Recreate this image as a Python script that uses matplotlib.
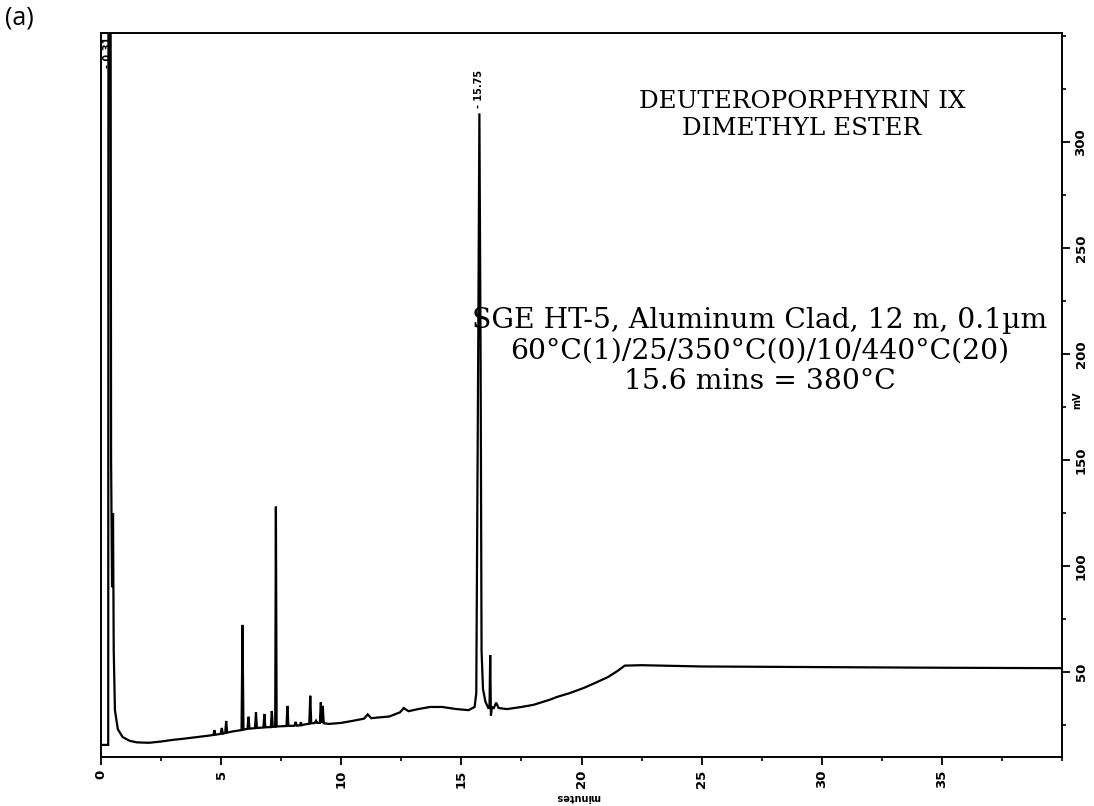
import matplotlib
matplotlib.use("Agg")
import matplotlib.pyplot as plt
from matplotlib.ticker import MultipleLocator
from matplotlib.transforms import blended_transform_factory

# Chromatogram trace: retention time (minutes) and detector signal (mV)
time_min = [
    0.00, 0.28, 0.30, 0.31, 0.40, 0.42, 0.46, 0.50, 0.53, 0.58, 0.70, 0.90,
    1.20, 1.50, 2.00, 2.50, 3.00, 3.50, 4.00, 4.50,
    4.68, 4.72, 4.76, 4.98, 5.03, 5.07, 5.17, 5.21, 5.25,
    5.50, 5.85, 5.89, 5.93, 6.10, 6.14, 6.18, 6.41, 6.45, 6.49,
    6.76, 6.80, 6.84, 7.07, 7.11, 7.15, 7.25, 7.28, 7.31,
    7.50, 7.72, 7.76, 7.80, 8.05, 8.10, 8.15, 8.28, 8.32, 8.36,
    8.50, 8.67, 8.71, 8.75, 8.90, 8.95, 9.00, 9.11, 9.15, 9.19, 9.23, 9.27,
    9.50, 10.00, 10.50, 10.95, 11.10, 11.25, 11.50, 12.00, 12.45, 12.60, 12.80,
    13.20, 13.70, 14.20, 14.80, 15.30, 15.55, 15.62, 15.70, 15.75, 15.80,
    15.84, 15.90, 16.00, 16.12, 16.17, 16.20, 16.23, 16.27, 16.35, 16.45,
    16.55, 16.90, 17.50, 18.00, 18.70, 19.00, 19.50, 20.10, 20.60, 21.10,
    21.50, 21.80, 22.50, 25.00, 30.00, 35.00, 40.00,
]
signal_mv = [
    15.6, 15.6, 15.6, 360.0, 360.0, 150.0, 90.0, 125.0, 60.0, 32.0, 23.0, 19.3,
    17.5, 16.8, 16.6, 17.2, 18.0, 18.6, 19.3, 20.0,
    20.3, 22.6, 20.4, 20.8, 23.6, 20.9, 21.2, 26.9, 21.4,
    22.0, 22.6, 72.2, 22.8, 23.2, 28.9, 23.3, 23.5, 31.0, 23.6,
    23.8, 30.2, 23.9, 24.0, 31.6, 24.1, 24.2, 128.0, 24.3,
    24.4, 24.5, 34.0, 24.6, 24.6, 26.5, 24.7, 24.8, 26.3, 24.9,
    25.3, 25.6, 38.8, 25.8, 25.9, 27.0, 26.0, 26.0, 35.7, 26.0, 34.0, 25.8,
    25.5, 26.0, 27.0, 28.0, 30.0, 28.2, 28.5, 29.0, 31.0, 33.0, 31.5,
    32.5, 33.5, 33.5, 32.5, 32.0, 33.5, 40.0, 200.0, 313.5, 200.0,
    60.0, 42.0, 36.0, 33.0, 33.0, 58.0, 29.5, 33.5, 33.0, 35.5,
    33.0, 32.5, 33.5, 34.5, 37.0, 38.3, 40.0, 42.5, 45.0, 47.6,
    50.5, 53.0, 53.2, 52.6, 52.3, 52.0, 51.8,
]

# Labelled peaks
peak_times = [0.31, 15.75]
peak_labels = ["0.31", "15.75"]
peak_label_y = [335.0, 316.0]

x_major = [0, 5, 10, 15, 20, 25, 30, 35]
y_major = [50, 100, 150, 200, 250, 300]

title_lines = "DEUTEROPORPHYRIN IX\nDIMETHYL ESTER"
method_lines = ("SGE HT-5, Aluminum Clad, 12 m, 0.1\u00b5m\n"
                "60\u00b0C(1)/25/350\u00b0C(0)/10/440\u00b0C(20)\n"
                "15.6 mins = 380\u00b0C")

W, H = 1094, 806
fig = plt.figure(figsize=(W / 100, H / 100), dpi=100)
fig.patch.set_facecolor("white")

ax = fig.add_axes([101 / W, 1 - 757 / H, (1062 - 101) / W, (757 - 33) / H])
ax.plot(time_min, signal_mv, color="black", lw=1.6, solid_joinstyle="miter")
ax.set_xlim(0, 40)
ax.set_ylim(9.9, 351.4)

for s in ax.spines.values():
    s.set_linewidth(1.4)
    s.set_color("black")

ax.yaxis.tick_right()
ax.set_xticks(x_major)
ax.set_xticklabels([str(v) for v in x_major], rotation=90,
                   fontsize=9.5, fontweight="bold")
ax.xaxis.set_minor_locator(MultipleLocator(2.5))
ax.set_yticks(y_major)
ax.set_yticklabels([str(v) for v in y_major], rotation=90, va="center",
                   fontsize=9.5, fontweight="bold")
ax.yaxis.set_minor_locator(MultipleLocator(25))
ax.tick_params(axis="both", which="major", direction="out", length=6,
               width=1.3, pad=3)
ax.tick_params(axis="both", which="minor", direction="out", length=3,
               width=1.2)

# Axis titles
fig.text(578 / W, 1 - 797 / H, "minutes", rotation=180, ha="center",
         va="center", fontsize=7, fontweight="bold")
ax.text(1.011, 178, "mV", rotation=90, ha="left", va="center",
        fontsize=7, fontweight="bold",
        transform=blended_transform_factory(ax.transAxes, ax.transData))

for t, lab, yy in zip(peak_times, peak_labels, peak_label_y):
    ax.text(t, yy, "- " + lab, rotation=90, ha="center", va="bottom",
            fontsize=7, fontweight="bold")

fig.text(802 / W, 1 - 115 / H, title_lines, ha="center", va="center",
         family="DejaVu Serif", fontsize=17.7, linespacing=1.25)
fig.text(760 / W, 1 - 351 / H, method_lines, ha="center", va="center",
         family="DejaVu Serif", fontsize=20.3, linespacing=1.18)
fig.text(5 / W, 1 - 18 / H, "(a)", ha="left", va="center",
         family="Open Sans", fontsize=18)

fig.savefig("out.png", dpi=100, facecolor="white")
